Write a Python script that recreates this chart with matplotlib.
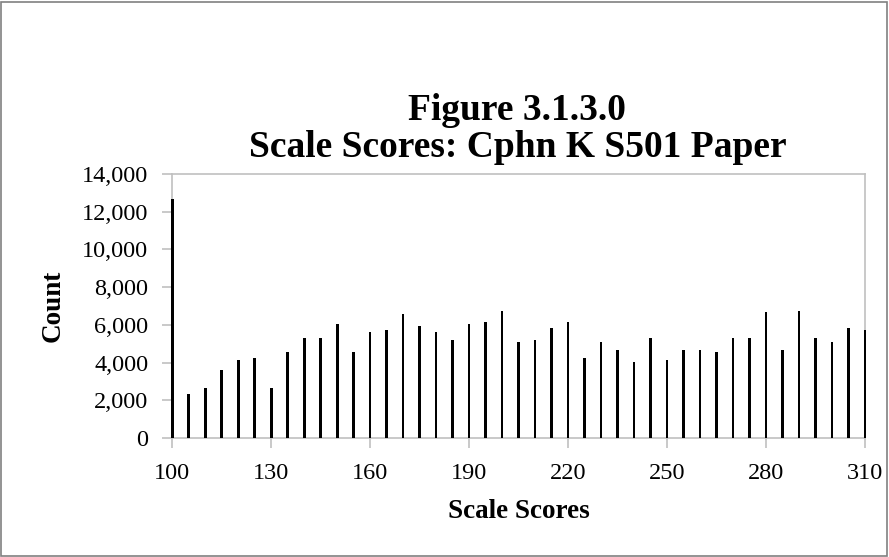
import matplotlib.pyplot as plt
from matplotlib.patches import Rectangle

plt.rcParams['font.family'] = ['Liberation Serif', 'DejaVu Serif']

scores = list(range(100, 315, 5))
counts = [12700, 2340, 2650, 3610, 4140, 4250, 2650, 4570, 5290, 5290,
          6040, 4570, 5610, 5720, 6570, 5930, 5610, 5190, 6040, 6140,
          6760, 5080, 5190, 5810, 6140, 4230, 5080, 4650, 4040, 5290,
          4140, 4650, 4650, 4550, 5290, 5290, 6670, 4650, 6760, 5290,
          5080, 5810, 5720]
xticks = [100, 130, 160, 190, 220, 250, 280, 310]
yticks = list(range(0, 14001, 2000))

fig = plt.figure(figsize=(8.89, 5.57), dpi=100)
fig.patches.append(Rectangle((0.001, 0.002), 0.997, 0.995, transform=fig.transFigure,
                             fill=False, edgecolor='#808080', lw=1.2))
ax = fig.add_axes([0.1935, 0.2136, 0.7795, 0.474])

bars = ax.bar(scores, counts, width=0.9, color='black', zorder=3)
for b in bars:
    b.set_clip_on(False)
ax.set_xlim(100, 310)
ax.set_ylim(0, 14000)
ax.set_xticks(xticks)
ax.set_yticks(yticks)
ax.set_yticklabels([f'{v:,}' for v in yticks])

for s in ax.spines.values():
    s.set_color('#c0c0c0')
    s.set_linewidth(1.2)
ax.tick_params(axis='both', colors='#c0c0c0', labelcolor='black', labelsize=17.5,
               length=7, width=1.2)
ax.tick_params(axis='y', pad=10)
ax.tick_params(axis='x', pad=11)

ax.set_xlabel('Scale Scores', fontsize=19.5, fontweight='bold')
ax.set_ylabel('Count', fontsize=19.5, fontweight='bold')
ax.xaxis.set_label_coords(0.5, -0.232)
ax.yaxis.set_label_coords(-0.154, 0.5)

fig.text(0.582, 0.801, 'Figure 3.1.3.0', ha='center', va='center',
         fontsize=27, fontweight='bold')
fig.text(0.582, 0.736, 'Scale Scores: Cphn K S501 Paper', ha='center', va='center',
         fontsize=27, fontweight='bold')

fig.savefig('out.png', dpi=100)
